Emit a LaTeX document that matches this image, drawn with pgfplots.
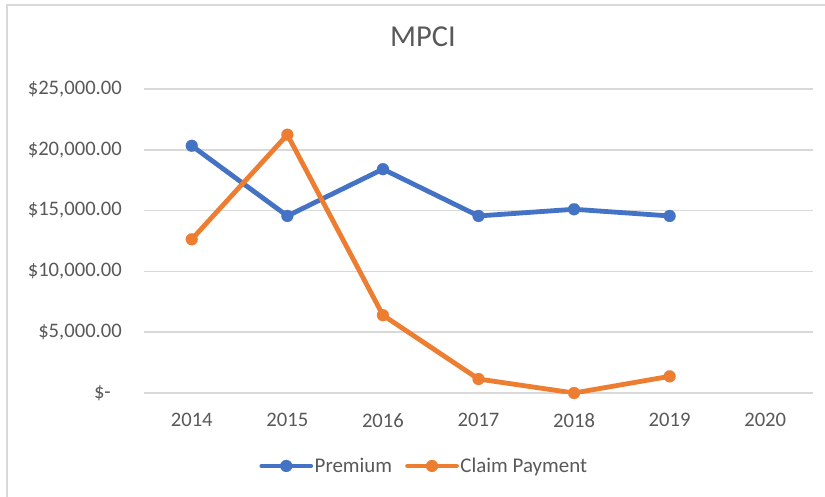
\documentclass[border=0pt]{standalone}
\usepackage{fontspec}
\setmainfont{Carlito}
\usepackage{pgfplots}
\pgfplotsset{compat=1.18}
\definecolor{pblue}{HTML}{4472C4}
\definecolor{corange}{HTML}{ED7D31}
\definecolor{gridgray}{HTML}{D9D9D9}
\definecolor{txtgray}{HTML}{595959}
\begin{document}
\begin{tikzpicture}
\useasboundingbox (0bp,0bp) rectangle (825bp,-497bp);
\fill[white] (0bp,0bp) rectangle (825bp,-497bp);
\draw[gridgray, line width=1.5bp] (7bp,-5bp) rectangle (845bp,-510bp);
\begin{axis}[
  at={(144bp,-393bp)}, anchor=south west,
  scale only axis, width=669bp, height=304bp,
  xmin=-0.5, xmax=6.5, ymin=0, ymax=25000,
  scaled y ticks=false,
  xtick={0,1,2,3,4,5,6},
  xticklabels={2014,2015,2016,2017,2018,2019,2020},
  ytick={0,5000,10000,15000,20000,25000},
  yticklabels={\$-\rule{11bp}{0pt},{\$5,000.00},{\$10,000.00},{\$15,000.00},{\$20,000.00},{\$25,000.00}},
  major tick length=0pt,
  axis line style={draw=none},
  ymajorgrids, grid style={gridgray, line width=1.5bp},
  ticklabel style={font=\fontsize{20.7}{24}\selectfont, text=txtgray},
  yticklabel style={anchor=east, inner sep=0pt, xshift=-22bp},
  xticklabel style={anchor=north, inner sep=0pt, yshift=-20bp},
  title={MPCI},
  title style={at={(rel axis cs:0.417,1.151)}, anchor=center, inner sep=0pt, font=\fontsize{30.5}{36}\selectfont, text=txtgray},
  legend columns=2,
  legend style={at={(rel axis cs:0.4185,-0.240)}, anchor=center, draw=none, fill=none,
    font=\fontsize{21}{25}\selectfont, text=txtgray,
    nodes={inner xsep=1.5bp, inner ysep=1bp},
    /tikz/every even column/.append style={column sep=11.5bp}},
  legend image code/.code={\draw[mark repeat=2, mark phase=2] plot coordinates {(0bp,0bp)(24.5bp,0bp)(49bp,0bp)};},
]
\addplot[pblue, line width=4.8bp, line join=round, line cap=round, mark=*, mark size=6bp,
  mark options={fill=pblue, draw=pblue, line width=0.1bp}]
  coordinates {(0,20330) (1,14560) (2,18410) (3,14560) (4,15110) (5,14560)};
\addlegendentry{Premium}
\addplot[corange, line width=4.8bp, line join=round, line cap=round, mark=*, mark size=6bp,
  mark options={fill=corange, draw=corange, line width=0.1bp}]
  coordinates {(0,12640) (1,21240) (2,6400) (3,1150) (4,0) (5,1370)};
\addlegendentry{Claim Payment}
\end{axis}
\end{tikzpicture}
\end{document}
